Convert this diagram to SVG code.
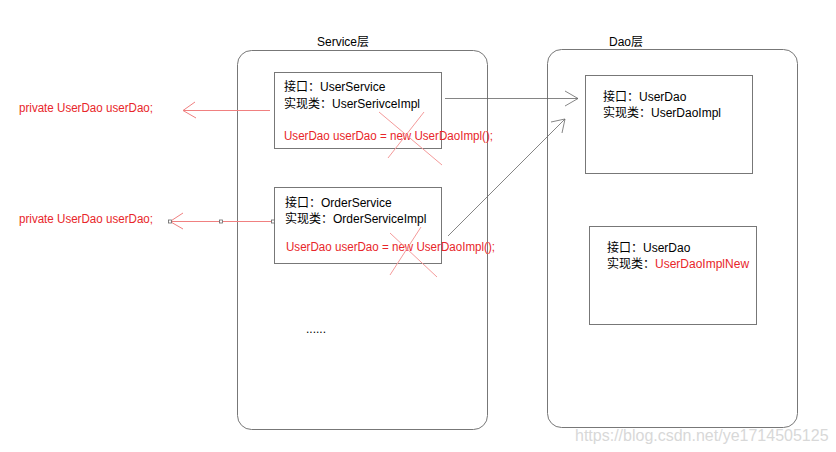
<svg xmlns="http://www.w3.org/2000/svg" width="836" height="452" viewBox="0 0 836 452">
<style>
text{font-family:"Liberation Sans","Noto Sans CJK SC",sans-serif;font-size:12px;fill:#000}
.red{fill:#e8262a}
.cont{fill:none;stroke:#777;stroke-width:1}
.box{fill:#fff;stroke:#777;stroke-width:1}
.ln{fill:none;stroke:#666;stroke-width:0.8}
.rl{fill:none;stroke:#f08080;stroke-width:1}
.x{stroke:#f49a9a;stroke-width:1}
.pt{fill:#fff;stroke:#666;stroke-width:0.8}
.wm{font-size:16px;fill:#d8d8d8}
</style>
<rect width="836" height="452" fill="#fff"/>
<g id="service-layer">
<rect class="cont" x="237.5" y="50.5" width="250" height="379" rx="14"/>
<text x="343" y="46" text-anchor="middle">Service层</text>
</g>
<g id="dao-layer">
<rect class="cont" x="547.5" y="49.5" width="250" height="378" rx="14"/>
<text x="626" y="46" text-anchor="middle">Dao层</text>
</g>
<g id="user-service">
<rect class="box" x="274.5" y="72.5" width="167" height="76"/>
<text x="284" y="91">接口：UserService</text>
<text x="284" y="108">实现类：UserSerivceImpl</text>
<text class="red" x="284" y="140" textLength="209" lengthAdjust="spacingAndGlyphs">UserDao userDao = new UserDaoImpl();</text>
<line class="x" x1="379" y1="112" x2="442" y2="165"/>
<line class="x" x1="424" y1="112" x2="388" y2="158"/>
</g>
<g id="order-service">
<rect class="box" x="274.5" y="187.5" width="167" height="76"/>
<text x="285" y="207">接口：OrderService</text>
<text x="285" y="223">实现类：OrderServiceImpl</text>
<text class="red" x="286" y="251" textLength="209" lengthAdjust="spacingAndGlyphs">UserDao userDao = new UserDaoImpl();</text>
<line class="x" x1="390" y1="233" x2="437" y2="277"/>
<line class="x" x1="421" y1="227" x2="390" y2="275"/>
</g>
<g id="dao-impl">
<rect class="box" x="585.5" y="75.5" width="167" height="98"/>
<text x="603" y="101">接口：UserDao</text>
<text x="603" y="117">实现类：UserDaoImpl</text>
</g>
<g id="dao-impl-new">
<rect class="box" x="589.5" y="226.5" width="167" height="98"/>
<text x="607" y="252">接口：UserDao</text>
<text x="607" y="268">实现类：<tspan class="red">UserDaoImplNew</tspan></text>
</g>
<g id="field1">
<text class="red" x="19" y="112" textLength="134" lengthAdjust="spacingAndGlyphs">private UserDao userDao;</text>
</g>
<g id="field2">
<text class="red" x="19" y="223" textLength="134" lengthAdjust="spacingAndGlyphs">private UserDao userDao;</text>
</g>
<g id="more">
<text x="306" y="333">......</text>
</g>
<g id="connectors">
<line class="ln" x1="445" y1="98.5" x2="578" y2="98.5"/>
<polyline class="ln" points="565,91 578,98.5 565,106"/>
<line class="ln" x1="448" y1="236" x2="565" y2="119"/>
<polyline class="ln" points="551,122 565,119 562,133"/>
<line class="rl" x1="183" y1="110.5" x2="270" y2="110.5"/>
<polyline class="rl" points="195,102 183,110.5 196,118"/>
<line class="rl" x1="170" y1="221.5" x2="274" y2="221.5"/>
<polyline class="rl" points="183,213 170,221.5 183,229"/>
<rect class="pt" x="168.5" y="220" width="3" height="3"/>
<rect class="pt" x="219.5" y="220" width="3" height="3"/>
<rect class="pt" x="271.5" y="220" width="3" height="3"/>
</g>
<text class="wm" x="575" y="441">https://blog.csdn.net/ye1714505125</text>
</svg>
